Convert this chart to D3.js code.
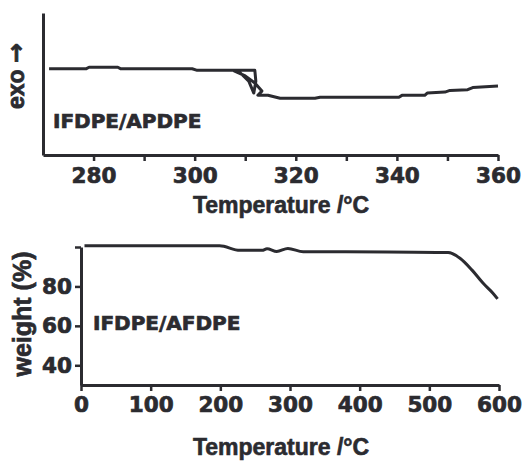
<!DOCTYPE html>
<html>
<head>
<meta charset="utf-8">
<script src="https://cdn.jsdelivr.net/npm/d3@7"></script>
<style>
  body { margin: 0; background: #fff; }
  svg { display: block; }
</style>
</head>
<body>
<div id="chart"></div>
<script>
// DSC trace (top panel), arbitrary heat flow units
var dscTemp  = [271.2, 278.5, 279.1, 284.8, 285.4, 299.5, 300.5, 311.9, 312.1, 311.7, 310.7, 309.0, 307.8, 310.0, 311.9, 313.3, 312.5, 314.5, 316.9, 323.8, 324.8, 340.4, 341.0, 345.5, 346.0, 349.5, 350.5, 354.0, 355.0, 360.0];
var dscFlow  = [6.07, 6.07, 6.18, 6.18, 6.07, 6.07, 5.96, 5.96, 5.2, 4.36, 5.2, 5.79, 5.93, 5.57, 5.07, 4.5, 4.21, 4.21, 4.0, 4.0, 4.07, 4.07, 4.2, 4.2, 4.36, 4.43, 4.55, 4.6, 4.75, 4.86];

// TGA trace (bottom panel)
var tgaTemp   = [5, 199, 228, 260, 267, 281, 297, 319, 440, 527, 544, 561, 577, 591, 598];
var tgaWeight = [100.6, 100.6, 98.3, 98.3, 99.1, 97.7, 99.3, 97.6, 97.5, 97.2, 94.3, 88.4, 81.7, 76.7, 73.7];

var dscTicks = [270, 280, 290, 300, 310, 320, 330, 340, 350, 360];
var dscLabels = [280, 300, 320, 340, 360];
var tgaXTicks = [0, 100, 200, 300, 400, 500, 600];
var tgaYTicks = [40, 60, 80, 100];
var tgaYLabels = [40, 60, 80];

var ink = "#2b2b30";
var tickFont = "'DejaVu Sans', Verdana, sans-serif";
var titleFont = "'Liberation Sans', Arial, sans-serif";

var svg = d3.select("#chart")
  .append("svg")
  .attr("width", 530)
  .attr("height", 463);

// bold text in the figure is heavier than the fonts we have, so stroke it lightly
function heavy(sel, family, size, sw) {
  sel.attr("fill", ink)
    .attr("stroke", ink)
    .attr("stroke-width", sw)
    .style("font-family", family)
    .style("font-weight", "bold")
    .style("font-size", size);
}

function styleAxis(g) {
  g.selectAll("path.domain").attr("stroke", ink).attr("stroke-width", 3);
  g.selectAll(".tick line").attr("stroke", ink).attr("stroke-width", 2.5);
  g.selectAll(".tick text").call(heavy, tickFont, "21.5px", 0.7);
}

// ---- top panel (DSC) ----
var x1 = d3.scaleLinear().domain([270, 360]).range([43, 498]);
var y1 = d3.scaleLinear().domain([0, 10]).range([155, 13]);

svg.append("g")
  .attr("transform", "translate(0,155)")
  .call(d3.axisBottom(x1).tickValues(dscTicks).tickSize(6).tickSizeOuter(0).tickPadding(6.7)
    .tickFormat(function(d) { return dscLabels.indexOf(d) >= 0 ? d : ""; }))
  .call(styleAxis)
  .call(function(g) { g.selectAll(".tick").filter(function(d) { return d == 270; }).remove(); });

svg.append("g")
  .attr("transform", "translate(43,0)")
  .call(d3.axisLeft(y1).tickValues([]).tickSizeOuter(0))
  .call(styleAxis);

var dscData = dscTemp.map(function(t, i) { return {t: t, v: dscFlow[i]}; });
svg.append("path")
  .datum(dscData)
  .attr("fill", "none")
  .attr("stroke", ink)
  .attr("stroke-width", 3)
  .attr("stroke-linejoin", "round")
  .attr("d", d3.line()
    .x(function(d) { return x1(d.t); })
    .y(function(d) { return y1(d.v); }));

var exo = svg.append("text")
  .attr("transform", "translate(16,76) rotate(-90)")
  .attr("text-anchor", "middle")
  .attr("dominant-baseline", "central")
  .call(heavy, titleFont, "23px", 0.8);
exo.append("tspan").text("exo ");
exo.append("tspan").style("font-family", "'DejaVu Sans', sans-serif").style("font-size", "24px").text("\u2192");

svg.append("text")
  .attr("x", 53).attr("y", 128)
  .call(heavy, tickFont, "20px", 0.7)
  .text("IFDPE/APDPE");

svg.append("text")
  .attr("x", 281).attr("y", 213)
  .attr("text-anchor", "middle")
  .call(heavy, titleFont, "23px", 0.6)
  .text("Temperature /°C");

// ---- bottom panel (TGA) ----
var x2 = d3.scaleLinear().domain([0, 600]).range([81, 499]);
var y2 = d3.scaleLinear().domain([30, 100]).range([385, 247]);

svg.append("g")
  .attr("transform", "translate(0,385)")
  .call(d3.axisBottom(x2).tickValues(tgaXTicks).tickSize(6).tickSizeOuter(0).tickPadding(5.7))
  .call(styleAxis);

svg.append("g")
  .attr("transform", "translate(81,0)")
  .call(d3.axisLeft(y2).tickValues(tgaYTicks).tickSize(6).tickSizeOuter(0).tickPadding(3)
    .tickFormat(function(d) { return tgaYLabels.indexOf(d) >= 0 ? d : ""; }))
  .call(styleAxis);

var tgaData = tgaTemp.map(function(t, i) { return {t: t, w: tgaWeight[i]}; });
svg.append("path")
  .datum(tgaData)
  .attr("fill", "none")
  .attr("stroke", ink)
  .attr("stroke-width", 3)
  .attr("stroke-linejoin", "round")
  .attr("d", d3.line()
    .curve(d3.curveMonotoneX)
    .x(function(d) { return x2(d.t); })
    .y(function(d) { return y2(d.w); }));

svg.append("text")
  .attr("transform", "translate(22,314) rotate(-90)")
  .attr("text-anchor", "middle")
  .attr("dominant-baseline", "central")
  .call(heavy, titleFont, "25px", 0.7)
  .text("weight (%)");

svg.append("text")
  .attr("x", 93).attr("y", 330)
  .call(heavy, tickFont, "20px", 0.7)
  .text("IFDPE/AFDPE");

svg.append("text")
  .attr("x", 281).attr("y", 455)
  .attr("text-anchor", "middle")
  .call(heavy, titleFont, "23px", 0.6)
  .text("Temperature /°C");
</script>
</body>
</html>
